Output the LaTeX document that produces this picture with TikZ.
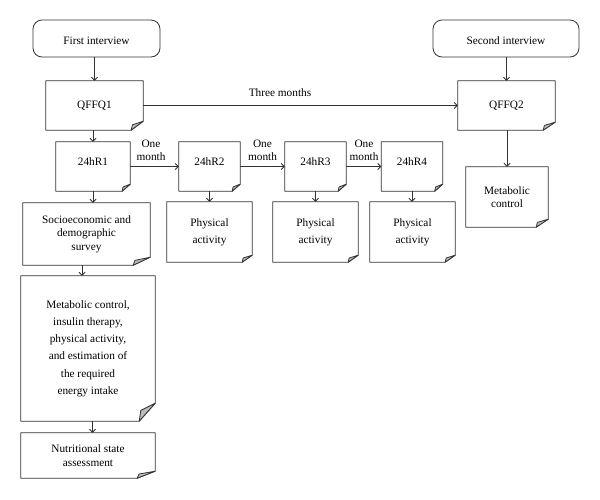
\documentclass[tikz,border=0pt]{standalone}
\usepackage{fontspec}
\setmainfont{Liberation Serif}
\usetikzlibrary{arrows.meta,calc}
\definecolor{linegray}{HTML}{333333}
\definecolor{foldgray}{HTML}{BBBBBB}
\newcommand{\foldbox}[3]{%
  \draw[boxline] (#1.north west) -- (#1.north east) -- ($(#1.south east)+(0,-#3)$) -- ($(#1.south east)+(-#2,0)$) -- (#1.south west) -- cycle;
  \filldraw[boxline,fill=foldgray] ($(#1.south east)+(-#2,0)$) -- ($(#1.south east)+(-0.9*#2,-0.6*#3)$) -- ($(#1.south east)+(0,-#3)$) -- cycle;}
\begin{document}
\begin{tikzpicture}[x=1pt,y=-1pt,
  boxline/.style={draw=linegray,line width=0.8pt,line join=round},
  box/.style={inner sep=0pt,align=center,font=\fontsize{11.3}{13.3}\selectfont},
  wide/.style={box,font=\fontsize{11.3}{17.2}\selectfont},
  roundbox/.style={box,boxline,rounded corners=9pt},
  arr/.style={boxline,-{Straight Barb[length=3pt,width=6pt]}},
  lbl/.style={inner sep=0pt,align=center,font=\fontsize{11.3}{13.3}\selectfont}]
\fill[white] (0,0) rectangle (600,499);
\useasboundingbox (0,0) rectangle (600,499);
% top row
\node[roundbox,minimum width=127pt,minimum height=37pt,text height=11pt,text depth=0pt] (fi) at (96.5,38.5) {First interview};
\node[roundbox,minimum width=146pt,minimum height=37pt,text height=11pt,text depth=0pt] (si) at (506,38.5) {Second interview};
\node[box,minimum width=97pt,minimum height=49pt] (q1) at (94.5,105.5) {QFFQ1};
\node[box,minimum width=97pt,minimum height=49pt] (q2) at (506.5,105.5) {QFFQ2};
% 24h recalls
\node[box,minimum width=74pt,minimum height=49pt,text depth=9pt] (r1) at (93,166.5) {24hR1};
\node[box,minimum width=61pt,minimum height=49pt,text depth=9pt] (r2) at (209.5,166.5) {24hR2};
\node[box,minimum width=61pt,minimum height=49pt,text depth=9pt] (r3) at (315.5,166.5) {24hR3};
\node[box,minimum width=61pt,minimum height=49pt,text depth=9pt] (r4) at (412,166.5) {24hR4};
% second level
\node[box,minimum width=127pt,minimum height=62pt] (se) at (86.5,234) {Socioeconomic and\\demographic\\survey};
\node[wide,minimum width=85pt,minimum height=60pt] (p2) at (209.5,232) {Physical\\activity};
\node[wide,minimum width=85pt,minimum height=60pt] (p3) at (315.5,232) {Physical\\activity};
\node[wide,minimum width=85pt,minimum height=60pt] (p4) at (412.5,232) {Physical\\activity};
\node[box,minimum width=82pt,minimum height=60pt] (mc2) at (507,197) {Metabolic\\control};
% left column
\node[wide,minimum width=134pt,minimum height=145pt] (mc) at (88,348.5) {Metabolic control,\\insulin therapy,\\physical activity,\\and estimation of\\the required\\energy intake};
\node[box,minimum width=134pt,minimum height=45pt] (ns) at (88,455.5) {Nutritional state\\assessment};
% outlines
\foldbox{q1}{12}{9}
\foldbox{q2}{12}{8}
\foldbox{r1}{8}{7}
\foldbox{r2}{8}{7}
\foldbox{r3}{8}{7}
\foldbox{r4}{8}{7}
\foldbox{se}{17}{8}
\foldbox{p2}{10}{7}
\foldbox{p3}{10}{7}
\foldbox{p4}{10}{7}
\foldbox{mc2}{12}{8}
\foldbox{mc}{16}{18}
\foldbox{ns}{18}{7}
% labels
\node[lbl] (l0) at (280,93) {Three months};
\node[lbl] (l1) at (151,150) {One\\month};
\node[lbl] (l2) at (262.5,150) {One\\month};
\node[lbl] (l3) at (364,150) {One\\month};
% arrow start points
\coordinate (a1) at ($(se.south)+(-4.5,0)$);
\coordinate (a2) at ($(mc.south)+(4.5,0)$);
\coordinate (a0) at (fi.south -| q1.north);
% arrows
\draw[arr] (a0) -- (q1.north);
\draw[arr] (q1.south -| r1) -- (r1.north);
\draw[arr] (q1.east) -- (q2.west);
\draw[arr] (si.south -| q2) -- (q2.north);
\draw[arr] (q2.south -| mc2) -- (mc2.north);
\draw[arr] (r1.east) -- (r2.west);
\draw[arr] (r2.east) -- (r3.west);
\draw[arr] (r3.east) -- (r4.west);
\draw[arr] (r1.south) -- (r1.south |- se.north);
\draw[arr] (r2.south) -- (r2.south |- p2.north);
\draw[arr] (r3.south) -- (r3.south |- p3.north);
\draw[arr] (r4.south) -- (r4.south |- p4.north);
\draw[arr] (a1) -- (a1 |- mc.north);
\draw[arr] (a2) -- (a2 |- ns.north);
\end{tikzpicture}
\end{document}
